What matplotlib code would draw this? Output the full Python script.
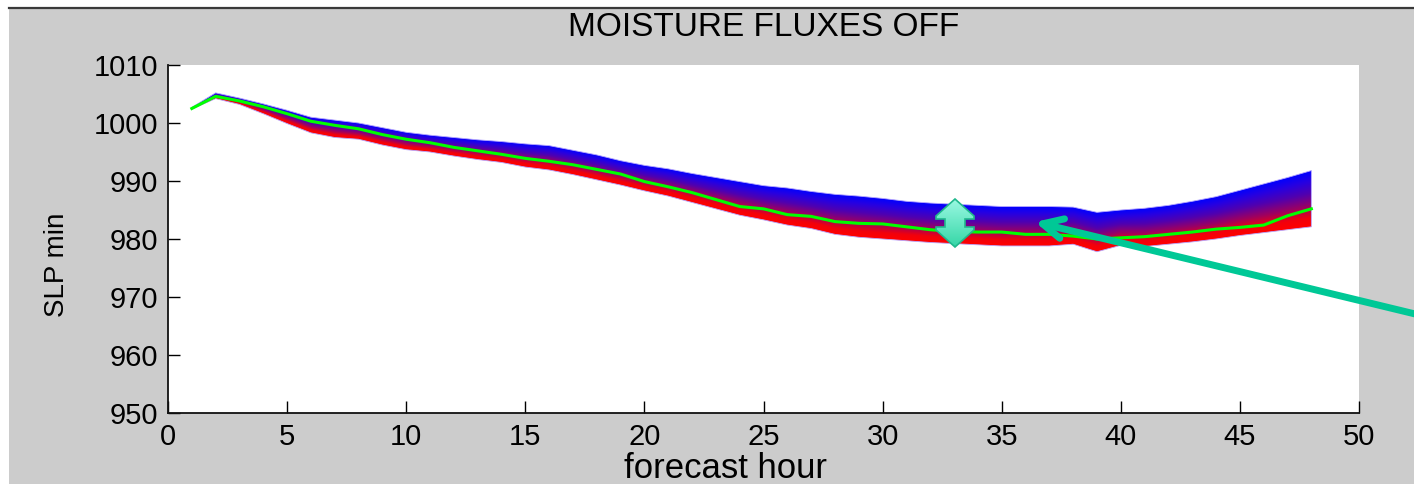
#Load libraries ---------------------------------------------------------------
import numpy as np
import matplotlib
matplotlib.use("Agg")
import matplotlib.pyplot as plt
from matplotlib.colors import LinearSegmentedColormap
from matplotlib.patches import Polygon, Rectangle
from matplotlib.lines import Line2D

#Data (SLP min, hPa) ----------------------------------------------------------
hours = list(range(1, 49))
slp_upper = [1002.7, 1005.2, 1004.3, 1003.3, 1002.2, 1001.0, 1000.5, 1000.0,
             999.2, 998.4, 997.9, 997.5, 997.1, 996.8, 996.4, 996.1,
             995.3, 994.5, 993.5, 992.7, 992.1, 991.3, 990.6, 989.9,
             989.2, 988.8, 988.2, 987.7, 987.4, 987.0, 986.5, 986.2,
             986.0, 985.8, 985.6, 985.6, 985.6, 985.5, 984.6, 985.0,
             985.3, 985.8, 986.5, 987.3, 988.4, 989.5, 990.6, 991.8]
slp_mean = [1002.5, 1004.6, 1003.8, 1002.8, 1001.6, 1000.3, 999.6, 999.0,
            998.0, 997.2, 996.6, 995.8, 995.2, 994.6, 993.9, 993.4,
            992.8, 992.0, 991.2, 989.9, 989.0, 988.0, 986.8, 985.6,
            985.2, 984.2, 983.9, 983.0, 982.7, 982.6, 982.1, 981.6,
            981.3, 981.2, 981.2, 980.8, 980.8, 980.5, 980.0, 980.2,
            980.4, 980.8, 981.2, 981.7, 982.0, 982.4, 984.0, 985.2]
slp_lower = [1002.4, 1004.2, 1003.2, 1001.6, 999.9, 998.3, 997.5, 997.2,
             996.2, 995.4, 995.0, 994.3, 993.7, 993.2, 992.4, 991.9,
             991.1, 990.2, 989.3, 988.3, 987.4, 986.3, 985.2, 984.1,
             983.3, 982.4, 981.8, 980.8, 980.3, 980.0, 979.7, 979.4,
             979.2, 979.0, 978.8, 978.8, 978.8, 979.1, 977.8, 978.9,
             978.7, 979.1, 979.5, 980.0, 980.6, 981.1, 981.6, 982.1]

xticks = list(range(0, 55, 5))
yticks = list(range(950, 1020, 10))

#Figure and frame --------------------------------------------------------------
W, H = 1414, 484
fig = plt.figure(figsize=(W / 100, H / 100), dpi=100, facecolor="white")
fig.add_artist(Rectangle((9 / W, 0), 1 - 9 / W, (H - 8) / H,
                         transform=fig.transFigure, facecolor="#cccccc",
                         edgecolor="none", zorder=-10))
fig.add_artist(Line2D([9 / W, 1], [(H - 7.5) / H] * 2, transform=fig.transFigure,
                      color="#3a3a3a", lw=1.6))

ax = fig.add_axes([168 / W, (H - 413) / H, (1359 - 168) / W, (413 - 65) / H])
ax.set_facecolor("white")

font = "Liberation Sans"

#Ensemble envelope with red->blue shading ------------------------------------
cmap = LinearSegmentedColormap.from_list(
    "rb", [(0.0, "#ff0000"), (0.15, "#f2000c"), (0.35, "#a0005e"),
           (0.6, "#5000b0"), (0.82, "#2600e2"), (1.0, "#0000ff")])
xf = np.linspace(hours[0], hours[-1], 900)
yf = np.linspace(975, 1007, 500)
lo = np.interp(xf, hours, slp_lower)
hi = np.interp(xf, hours, slp_upper)
X, Y = np.meshgrid(xf, yf)
t = np.clip((Y - lo) / np.maximum(hi - lo, 0.05), 0, 1)
im = ax.imshow(cmap(t), extent=[xf[0], xf[-1], yf[0], yf[-1]], origin="lower",
               aspect="auto", interpolation="bilinear", zorder=2)
verts = np.column_stack([np.r_[hours, hours[::-1]], np.r_[slp_upper, slp_lower[::-1]]])
band = Polygon(verts, closed=True, facecolor="none", edgecolor="#b8a8ff",
               lw=0.6, zorder=2.5)
ax.add_patch(band)
im.set_clip_path(band)

ax.plot(hours, slp_mean, color="#00ff00", lw=2.2, zorder=3)

#Axes styling ------------------------------------------------------------------
ax.set_xlim(0, 50)
ax.set_ylim(950, 1010)
ax.set_xticks(xticks)
ax.set_yticks(yticks)
ax.tick_params(direction="in", length=8.5, width=1.0, labelsize=21, pad=7)
for lab in ax.get_xticklabels() + ax.get_yticklabels():
    lab.set_fontfamily(font)
ax.spines["top"].set_visible(False)
ax.spines["right"].set_visible(False)
for s in ("left", "bottom"):
    ax.spines[s].set_linewidth(1.3)
    ax.spines[s].set_color("#111111")

fig.text(0.5 * (168 + 1359) / W, (H - 27) / H, "MOISTURE FLUXES OFF",
         ha="center", va="center", fontsize=24, family=font)
fig.text(726 / W, (H - 478) / H, "forecast hour", ha="center", va="baseline",
         fontsize=25, family=font)
fig.text(57 / W, (H - 265) / H, "SLP min", ha="center", va="center",
         rotation=90, fontsize=20, family=font)

#Overlay annotations (in picture pixels) --------------------------------------
ov = fig.add_axes([0, 0, 1, 1])
ov.set_xlim(0, W)
ov.set_ylim(H, 0)
ov.axis("off")
ov.patch.set_alpha(0)

arrow_pts = [(955, 199), (974, 216), (974, 219), (965, 219), (965, 227),
             (974, 227), (974, 230), (955, 247), (936, 230), (936, 227),
             (945, 227), (945, 219), (936, 219), (936, 216)]
darrow = Polygon(arrow_pts, closed=True, facecolor="none",
                 edgecolor="#1fb88c", lw=1.2, zorder=5)
ov.add_patch(darrow)
grad = LinearSegmentedColormap.from_list("mint", ["#9af8e2", "#35d6a6"])
gim = ov.imshow(grad(np.linspace(0, 1, 100))[:, None, :], extent=[935, 975, 247, 199],
                aspect="auto", interpolation="bilinear", zorder=4)
gim.set_clip_path(darrow)

ov.annotate("", xy=(1035, 222), xytext=(1440, 320), annotation_clip=False,
            arrowprops=dict(arrowstyle="->,head_length=1.45,head_width=0.72",
                            mutation_scale=10, lw=5, color="#00c896",
                            shrinkA=0, shrinkB=0))

fig.savefig("out.png", dpi=100, facecolor=fig.get_facecolor())
